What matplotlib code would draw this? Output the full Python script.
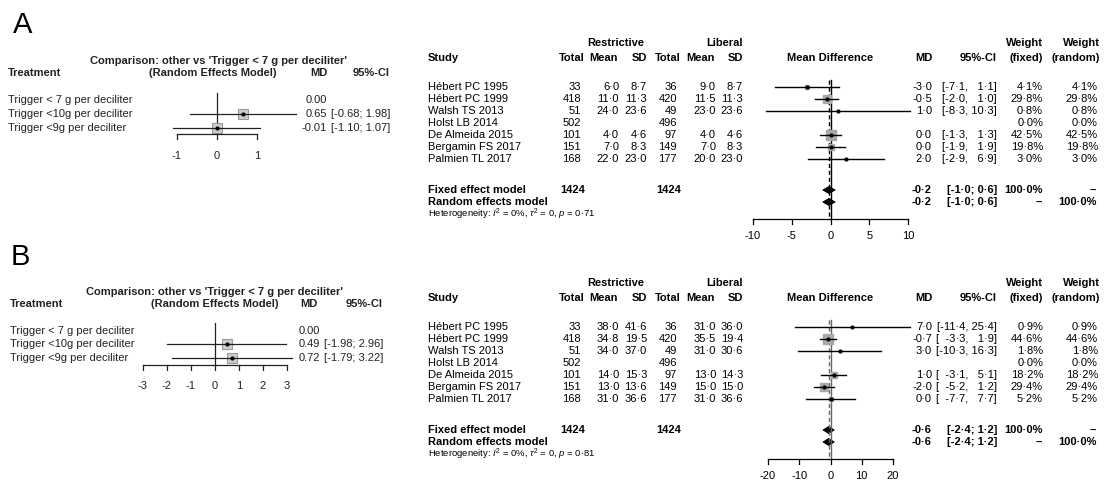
import matplotlib
matplotlib.use("Agg")
import matplotlib.pyplot as plt
from matplotlib.patches import Polygon

plt.rcParams["font.family"] = ["Liberation Sans", "DejaVu Sans"]
plt.rcParams["mathtext.fontset"] = "custom"
plt.rcParams["mathtext.rm"] = "Liberation Sans"
plt.rcParams["mathtext.it"] = "Liberation Sans:italic"

# ---- network meta-analysis (left) ----
treatments = ["Trigger < 7 g per deciliter", "Trigger <10g per deciliter", "Trigger <9g per deciliter"]
a_net_md = [0.00, 0.65, -0.01]
a_net_lo = [None, -0.68, -1.10]
a_net_hi = [None, 1.98, 1.07]
b_net_md = [0.00, 0.49, 0.72]
b_net_lo = [None, -1.98, -1.79]
b_net_hi = [None, 2.96, 3.22]

# ---- pairwise meta-analysis (right) ----
studies = ["Hébert PC 1995", "Hébert PC 1999", "Walsh TS 2013", "Holst LB 2014",
           "De Almeida 2015", "Bergamin FS 2017", "Palmien TL 2017"]
n_restrictive = [33, 418, 51, 502, 101, 151, 168]
n_liberal = [36, 420, 49, 496, 97, 149, 177]
n_total = 1424

a_mean_r = [6.0, 11.0, 24.0, None, 4.0, 7.0, 22.0]
a_sd_r = [8.7, 11.3, 23.6, None, 4.6, 8.3, 23.0]
a_mean_l = [9.0, 11.5, 23.0, None, 4.0, 7.0, 20.0]
a_sd_l = [8.7, 11.3, 23.6, None, 4.6, 8.3, 23.0]
a_md = [-3.0, -0.5, 1.0, None, 0.0, 0.0, 2.0]
a_lo = [-7.1, -2.0, -8.3, None, -1.3, -1.9, -2.9]
a_hi = [1.1, 1.0, 10.3, None, 1.3, 1.9, 6.9]
a_weight = [4.1, 29.8, 0.8, 0.0, 42.5, 19.8, 3.0]
a_pooled = [-0.2, -1.0, 0.6]
a_p = 0.71

b_mean_r = [38.0, 34.8, 34.0, None, 14.0, 13.0, 31.0]
b_sd_r = [41.6, 19.5, 37.0, None, 15.3, 13.6, 36.6]
b_mean_l = [31.0, 35.5, 31.0, None, 13.0, 15.0, 31.0]
b_sd_l = [36.0, 19.4, 30.6, None, 14.3, 15.0, 36.6]
b_md = [7.0, -0.7, 3.0, None, 1.0, -2.0, 0.0]
b_lo = [-11.4, -3.3, -10.3, None, -3.1, -5.2, -7.7]
b_hi = [25.4, 1.9, 16.3, None, 5.1, 1.2, 7.7]
b_weight = [0.9, 44.6, 1.8, 0.0, 18.2, 29.4, 5.2]
b_pooled = [-0.6, -2.4, 1.2]
b_p = 0.81

W, H = 1105, 486
fig = plt.figure(figsize=(W / 100, H / 100), dpi=100)
fig.patch.set_facecolor("white")

FS = 8
GREY = "#a8a8a8"
FIG_SPACE = "\u2007"


def fx(x):
    return x / W


def fy(y):
    return 1 - y / H


def txt(x, y, s, ha="left", size=FS, bold=False, color="black"):
    fig.text(fx(x), fy(y), s, ha=ha, va="center", fontsize=size,
             fontweight="bold" if bold else "normal", color=color)


def dot(v, fmt="{:.1f}"):
    return fmt.format(v).replace(".", "·")


def px_axes(x_left, x_right, xmin, xmax, y_top, y_bot):
    # axes whose y units are figure pixels measured from the top
    ax = fig.add_axes([fx(x_left), fy(y_bot), (x_right - x_left) / W, (y_bot - y_top) / H])
    ax.set_xlim(xmin, xmax)
    ax.set_ylim(y_bot, y_top)
    ax.axis("off")
    return ax


def r_axis(ax, ticks, axis_y, label_y, color="black"):
    ax.plot([ticks[0], ticks[-1]], [axis_y, axis_y], color=color, lw=0.9, clip_on=False)
    for t in ticks:
        ax.plot([t, t], [axis_y, axis_y + 5], color=color, lw=0.9, clip_on=False)
        ax.text(t, label_y, f"{t:g}", ha="center", va="center", fontsize=FS, color=color)


def network_panel(top, md, lo, hi, zero_px, unit_px, ticks, lay):
    c = "#222222"
    txt(lay["title_x"], top, "Comparison: other vs 'Trigger < 7 g per deciliter'", ha="center", bold=True, color=c)
    hy = top + 12
    txt(lay["treat_x"], hy, "Treatment", bold=True, color=c)
    txt(lay["rem_x"], hy, "(Random Effects Model)", ha="center", bold=True, color=c)
    txt(lay["md_x"], hy, "MD", ha="center", bold=True, color=c)
    txt(lay["ci_x"], hy, "95%-CI", ha="right", bold=True, color=c)

    span = ticks[-1]
    ax = px_axes(zero_px - unit_px * span, zero_px + unit_px * span, -span, span,
                 top, lay["label_y"] + 10)
    rows = lay["rows"]
    ax.plot([0, 0], [lay["vtop"], lay["axis_y"]], color=c, lw=0.9, clip_on=False)
    for i, name in enumerate(treatments):
        y = rows[i]
        txt(lay["treat_x"], y, name, color=c)
        txt(lay["md_r"], y, f"{md[i]:.2f}", ha="right", color=c)
        if lo[i] is None:
            continue
        txt(lay["md_r"] + 4, y, f"[{lo[i]:.2f}; {hi[i]:.2f}]", color=c)
        ax.plot(md[i], y, marker="s", ms=7, mfc="#cccccc", mec="#9a9a9a", mew=0.8, clip_on=False)
        ax.plot([lo[i], hi[i]], [y, y], color=c, lw=0.9, clip_on=False)
        ax.plot(md[i], y, marker="o", ms=2, color="black", clip_on=False)
    r_axis(ax, ticks, lay["axis_y"], lay["label_y"], color=c)


def meta_panel(dy, mean_r, sd_r, mean_l, sd_l, md, lo, hi, weight, pooled, p,
               x0, x1, span, ticks, line_color):
    h1, h2 = 43 + dy, 58 + dy
    rows = [87 + dy + 12 * i for i in range(len(studies))]
    fixed_y, random_y, het_y = 190 + dy, 202 + dy, 214 + dy
    axis_y, label_y = 219 + dy, 236 + dy

    # table headers
    txt(616, h1, "Restrictive", ha="center", bold=True)
    txt(743, h1, "Liberal", ha="right", bold=True)
    txt(428, h2, "Study", bold=True)
    for xr, s in zip([585, 618, 647, 681, 715, 743], ["Total", "Mean", "SD", "Total", "Mean", "SD"]):
        txt(xr, h2, s, ha="right", bold=True)
    txt(830, h2, "Mean Difference", ha="center", bold=True)
    txt(924, h2, "MD", ha="center", bold=True)
    txt(997, h2, "95%-CI", ha="right", bold=True)
    txt(1043, h1, "Weight", ha="right", bold=True)
    txt(1043, h2, "(fixed)", ha="right", bold=True)
    txt(1100, h1, "Weight", ha="right", bold=True)
    txt(1100, h2, "(random)", ha="right", bold=True)

    lo_w = max(len(f"{v:.1f}") for v in lo if v is not None)
    hi_w = max(len(f"{v:.1f}") for v in hi if v is not None)

    ax = px_axes(x0, x1, -span, span, 75 + dy, label_y + 10)
    ax.plot([0, 0], [80 + dy, axis_y], color=line_color, lw=1.0, clip_on=False)
    ax.plot([pooled[0], pooled[0]], [80 + dy, axis_y], color=line_color, lw=1.0,
            ls=(0, (3, 2)), clip_on=False)

    for i, name in enumerate(studies):
        y = rows[i]
        txt(428, y, name)
        txt(581, y, str(n_restrictive[i]), ha="right")
        txt(677, y, str(n_liberal[i]), ha="right")
        txt(1043, y, dot(weight[i]) + "%", ha="right")
        txt(1098, y, dot(weight[i]) + "%", ha="right")
        if md[i] is None:
            continue
        txt(619, y, dot(mean_r[i]), ha="right")
        txt(647, y, dot(sd_r[i]), ha="right")
        txt(716, y, dot(mean_l[i]), ha="right")
        txt(743, y, dot(sd_l[i]), ha="right")
        txt(932, y, dot(md[i]), ha="right")
        ls = dot(lo[i]).rjust(lo_w, FIG_SPACE)
        hs = dot(hi[i]).rjust(hi_w, FIG_SPACE)
        txt(997, y, f"[{ls}, {hs}]", ha="right")

        side = 1.5 * weight[i] ** 0.5
        ax.plot(md[i], y, marker="s", ms=side * 0.72, mfc=GREY, mec=GREY, clip_on=False)
        ax.plot([lo[i], hi[i]], [y, y], color="black", lw=1.0, clip_on=False)
        ax.plot(md[i], y, marker="o", ms=2, color="black", clip_on=False)

    # pooled estimates
    pl = dot(pooled[1]).rjust(lo_w - 1, " ")
    for y, lab, wf, wr in [(fixed_y, "Fixed effect model", "100·0%", "--"),
                           (random_y, "Random effects model", "--", "100·0%")]:
        txt(428, y, lab, bold=True)
        txt(932, y, dot(pooled[0]), ha="right", bold=True)
        txt(997, y, f"[{pl}; {dot(pooled[2])}]", ha="right", bold=True)
        txt(1043, y, wf, ha="right", bold=True)
        txt(1097, y, wr, ha="right", bold=True)
        ax.add_patch(Polygon([[pooled[1], y], [pooled[0], y - 3.5], [pooled[2], y], [pooled[0], y + 3.5]],
                             closed=True, fc="black", ec="black", lw=0.6, clip_on=False))
    txt(585, fixed_y, str(n_total), ha="right", bold=True)
    txt(681, fixed_y, str(n_total), ha="right", bold=True)
    txt(428, het_y, r"Heterogeneity: $I^2$ = 0%, $\tau^2$ = 0, $p$ = " + dot(p, "{:.2f}"), size=6.8)

    r_axis(ax, ticks, axis_y, label_y)


# panel labels
fig.text(fx(13), fy(25), "A", fontsize=21, va="center", ha="left")
fig.text(fx(11), fy(257), "B", fontsize=21, va="center", ha="left")

network_panel(61, a_net_md, a_net_lo, a_net_hi, zero_px=217, unit_px=40, ticks=[-1, 0, 1],
              lay=dict(title_x=218, treat_x=8, rem_x=213, md_x=319, ci_x=390, md_r=327,
                       rows=[100, 114, 128], vtop=93, axis_y=134, label_y=156))
network_panel(292, b_net_md, b_net_lo, b_net_hi, zero_px=215, unit_px=24, ticks=[-3, -2, -1, 0, 1, 2, 3],
              lay=dict(title_x=215, treat_x=10, rem_x=215, md_x=309, ci_x=383, md_r=320,
                       rows=[331, 344, 358], vtop=323, axis_y=365, label_y=386))

meta_panel(0, a_mean_r, a_sd_r, a_mean_l, a_sd_l, a_md, a_lo, a_hi, a_weight, a_pooled, a_p,
           753, 908, 10, [-10, -5, 0, 5, 10], "black")
meta_panel(240, b_mean_r, b_sd_r, b_mean_l, b_sd_l, b_md, b_lo, b_hi, b_weight, b_pooled, b_p,
           768, 893, 20, [-20, -10, 0, 10, 20], "#666666")

fig.savefig("out.png", dpi=100)
